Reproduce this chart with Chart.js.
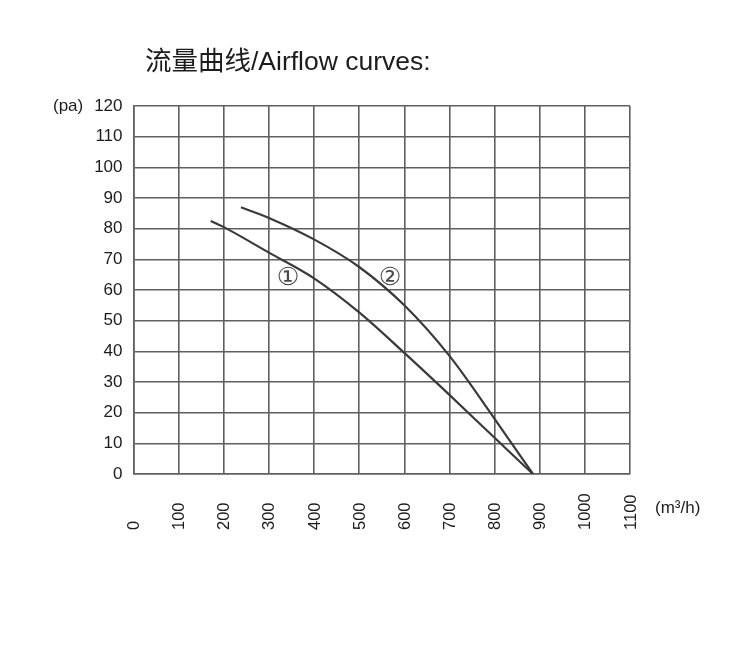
<!DOCTYPE html>
<html>
<head>
<meta charset="utf-8">
<script src="https://cdn.jsdelivr.net/npm/chart.js@4.4.1/dist/chart.umd.min.js"></script>
<style>
  html, body { margin: 0; padding: 0; background: #ffffff; }
  #wrap { position: absolute; left: 0; top: 0; width: 750px; height: 662px; }
</style>
</head>
<body>
<div id="wrap"><canvas id="c" width="750" height="662"></canvas></div>
<script>
// ---- data ----
const titleText = "流量曲线/Airflow curves:";
const yUnit = "(pa)";
const xUnit = "(m³/h)";
const xTicks = [0, 100, 200, 300, 400, 500, 600, 700, 800, 900, 1000, 1100];
const yTicks = [0, 10, 20, 30, 40, 50, 60, 70, 80, 90, 100, 110, 120];

const curve1X = [171, 200, 300, 400, 500, 600, 700, 800, 885];
const curve1Y = [82.5, 80.5, 72.2, 63.8, 52.7, 39.5, 25.8, 11.8, 0];

const curve2X = [238, 300, 400, 500, 600, 700, 800, 885];
const curve2Y = [87, 83.5, 76.5, 67.5, 55, 38.5, 18, 0];

const curveLabels = ["①", "②"];
const curveLabelX = [342, 568];
const curveLabelY = [63.6, 63.6];

const toPts = (xs, ys) => xs.map((x, i) => ({ x: x, y: ys[i] }));

const FONT = '"Liberation Sans", Arial, "Noto Sans CJK SC", sans-serif';
const TEXT = '#1c1c1c';
const GRID = '#5f5f5f';
const LINE = '#3a3a3a';

const decor = {
  id: 'decor',
  afterDraw(chart) {
    const ctx = chart.ctx;
    const xs = chart.scales.x, ys = chart.scales.y;
    ctx.save();
    ctx.fillStyle = TEXT;
    // title
    ctx.font = '26.5px ' + FONT;
    ctx.textAlign = 'left';
    ctx.textBaseline = 'middle';
    ctx.fillText(titleText, 145, 63);
    // units
    ctx.font = '17px ' + FONT;
    ctx.fillText(yUnit, 53, 106);
    ctx.fillText(xUnit, 655, 508);
    // x tick labels, rotated, starting at the bottom
    ctx.font = '16.5px ' + FONT;
    xTicks.forEach(v => {
      const px = xs.getPixelForValue(v);
      ctx.save();
      ctx.translate(px + 1, 530);
      ctx.rotate(-Math.PI / 2);
      ctx.textAlign = 'left';
      ctx.textBaseline = 'middle';
      ctx.fillText(String(v), 0, 0);
      ctx.restore();
    });
    // curve labels
    ctx.fillStyle = '#4a4a4a';
    ctx.font = '25px "DejaVu Sans", sans-serif';
    ctx.textAlign = 'center';
    ctx.textBaseline = 'middle';
    curveLabels.forEach((t, i) => {
      ctx.fillText(t, xs.getPixelForValue(curveLabelX[i]), ys.getPixelForValue(curveLabelY[i]));
    });
    ctx.restore();
  }
};

new Chart(document.getElementById('c'), {
  type: 'scatter',
  data: {
    datasets: [
      { label: '1', data: toPts(curve1X, curve1Y), showLine: true, borderColor: LINE, borderWidth: 2.2,
        pointRadius: 0, cubicInterpolationMode: 'monotone', fill: false },
      { label: '2', data: toPts(curve2X, curve2Y), showLine: true, borderColor: LINE, borderWidth: 2.2,
        pointRadius: 0, cubicInterpolationMode: 'monotone', fill: false }
    ]
  },
  options: {
    responsive: false,
    animation: false,
    devicePixelRatio: 1,
    layout: { padding: { left: 0, top: 106, right: 120, bottom: 0 } },
    plugins: { legend: { display: false }, tooltip: { enabled: false }, title: { display: false } },
    scales: {
      x: {
        type: 'linear', min: 0, max: 1100,
        afterBuildTicks(s) { s.ticks = xTicks.map(v => ({ value: v })); },
        afterFit(s) { s.height = 188; },
        ticks: { display: false },
        grid: { color: GRID, lineWidth: 1.6, drawTicks: false },
        border: { display: true, color: GRID, width: 1.6 }
      },
      y: {
        type: 'linear', min: 0, max: 120,
        afterBuildTicks(s) { s.ticks = yTicks.map(v => ({ value: v })); },
        afterFit(s) { s.width = 133.5; },
        ticks: { color: TEXT, padding: 11, font: { family: FONT, size: 17 } },
        grid: { color: GRID, lineWidth: 1.6, drawTicks: false },
        border: { display: true, color: GRID, width: 1.6 }
      }
    }
  },
  plugins: [decor]
});
</script>
</body>
</html>
